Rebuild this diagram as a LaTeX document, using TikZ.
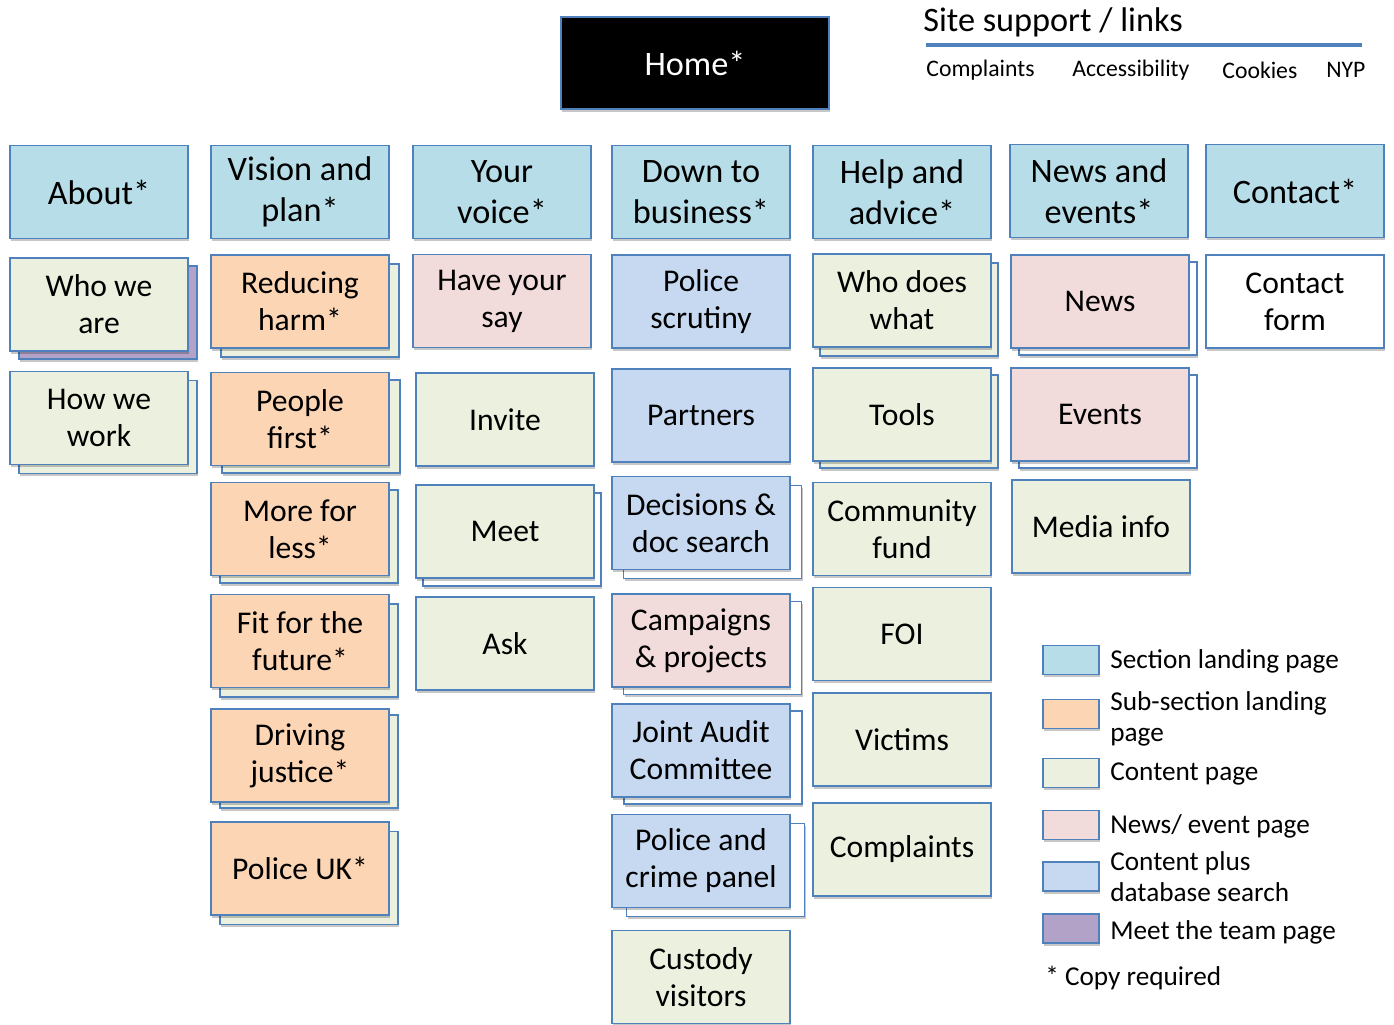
\documentclass[tikz,border=0pt]{standalone}
\usepackage{fontspec}
\setmainfont{Carlito}
\usepackage{tikz}
\usetikzlibrary{shadows}

\definecolor{pgblue}{HTML}{4F81BD}
\definecolor{seccol}{HTML}{B7DEE8}
\definecolor{subcol}{HTML}{FCD5B5}
\definecolor{contcol}{HTML}{EBF1DE}
\definecolor{newscol}{HTML}{F2DCDB}
\definecolor{pluscol}{HTML}{C6D9F1}
\definecolor{teamcol}{HTML}{B3A2C7}

\tikzset{
  pagebox/.style={draw=pgblue, line width=0.9pt, minimum width=3.56cm, minimum height=1.86cm,
    inner sep=1pt, align=center, font=\fontsize{18}{21}\selectfont,
    drop shadow={shadow xshift=0.6pt, shadow yshift=-1.6pt, fill=black, opacity=0.22}},
  secpage/.style={pagebox, fill=seccol, font=\fontsize{19.5}{23.2}\selectfont},
  subpage/.style={pagebox, fill=subcol},
  contpage/.style={pagebox, fill=contcol},
  newspage/.style={pagebox, fill=newscol},
  pluspage/.style={pagebox, fill=pluscol},
  whitepage/.style={pagebox, fill=white},
  backpage/.style={pagebox, fill=#1},
  swatch/.style={draw=pgblue, line width=0.9pt, minimum width=1.12cm, minimum height=0.58cm,
    fill=#1, drop shadow={shadow xshift=0.6pt, shadow yshift=-1.6pt, fill=black, opacity=0.22}},
  keytext/.style={anchor=west, align=left, inner sep=0pt, font=\fontsize{15.5}{17.6}\selectfont},
  linktext/.style={anchor=west, inner sep=0pt, font=\fontsize{13.5}{16}\selectfont}
}

\begin{document}
\begin{tikzpicture}[x=0.02cm, y=-0.02cm]
\useasboundingbox (0,0) rectangle (1394,1025);

% home and site links
\node[pagebox, fill=black, text=white, minimum width=5.36cm, minimum height=1.84cm,
  font=\fontsize{19.5}{23}\selectfont] (home) at (695,63) {Home*};
\node[anchor=west, inner sep=0pt, font=\fontsize{19.5}{22}\selectfont] (sitesup) at (923,22) {Site support / links};
\coordinate (rulel) at (926,45);
\coordinate (ruler) at (1362,45);
\draw[pgblue, line width=1.8pt] (rulel) -- (ruler);
\node[linktext] (lcompl) at (926,70) {Complaints};
\node[linktext] (laccess) at (1072,70) {Accessibility};
\node[linktext] (lcook) at (1222,70) {Cookies};
\node[linktext] (lnyp) at (1326,70) {NYP};

% section landing pages
\node[secpage] (about) at (99,192) {About*};
\node[secpage] (vision) at (300,192) {Vision and\\plan*};
\node[secpage] (voice) at (502,192) {Your\\voice*};
\node[secpage] (business) at (701,192) {Down to\\business*};
\node[secpage] (help) at (902,192) {Help and\\advice*};
\node[secpage] (newsev) at (1099,191) {News and\\events*};
\node[secpage] (contact) at (1295,191) {Contact*};

% about
\node[backpage=teamcol] (whoareB) at (108,312.5) {};
\node[contpage] (whoare) at (99,304.5) {Who we\\are};
\node[backpage=contcol] (howworkB) at (108,427) {};
\node[contpage] (howwork) at (99,418) {How we\\work};

% vision and plan
\node[backpage=contcol] (reduceB) at (310,310.5) {};
\node[subpage] (reduce) at (300,301.5) {Reducing\\harm*};
\node[backpage=contcol] (peopleB) at (311,426.5) {};
\node[subpage] (people) at (300,419) {People\\first*};
\node[backpage=contcol] (moreB) at (309,536.5) {};
\node[subpage] (more) at (300,529) {More for\\less*};
\node[backpage=contcol] (fitB) at (309,650.5) {};
\node[subpage] (fit) at (300,641) {Fit for the\\future*};
\node[backpage=contcol] (drivingB) at (309,761.5) {};
\node[subpage] (driving) at (300,755.5) {Driving\\justice*};
\node[backpage=contcol] (policeukB) at (309,878) {};
\node[subpage] (policeuk) at (300,868.5) {Police UK*};

% your voice
\node[newspage] (say) at (502,301) {Have your\\say};
\node[contpage] (invite) at (505,419.5) {Invite};
\node[backpage=white] (meetB) at (512,539.5) {};
\node[contpage] (meet) at (505,531.5) {Meet};
\node[contpage] (ask) at (505,643.5) {Ask};

% down to business
\node[pluspage] (scrutiny) at (701,301.5) {Police\\scrutiny};
\node[pluspage] (partners) at (701,415.5) {Partners};
\node[backpage=white] (decisionsB) at (712.5,532) {};
\node[pluspage] (decisions) at (701,523) {Decisions \&\\doc search};
\node[backpage=white] (campaignsB) at (712.5,648) {};
\node[newspage] (campaigns) at (701,640.5) {Campaigns\\\& projects};
\node[backpage=white] (auditB) at (713,757.5) {};
\node[pluspage] (audit) at (701,750.5) {Joint Audit\\Committee};
\node[backpage=white] (panelB) at (715.5,870) {};
\node[pluspage] (panel) at (701,861) {Police and\\crime panel};
\node[contpage] (custody) at (701,977) {Custody\\visitors};

% help and advice
\node[backpage=contcol] (whodoesB) at (909,309.5) {};
\node[contpage] (whodoes) at (902,300.5) {Who does\\what};
\node[backpage=contcol] (toolsB) at (909,421.5) {};
\node[contpage] (tools) at (902,414.5) {Tools};
\node[contpage] (fund) at (902,529) {Community\\fund};
\node[contpage] (foi) at (902,634) {FOI};
\node[contpage] (victims) at (902,739.5) {Victims};
\node[contpage] (complaints) at (902,849.5) {Complaints};

% news and events
\node[backpage=white] (newsB) at (1108,308.5) {};
\node[newspage] (news) at (1100,301.5) {News};
\node[backpage=white] (eventsB) at (1108,421.5) {};
\node[newspage] (events) at (1100,414.5) {Events};
\node[contpage] (media) at (1101,526.5) {Media info};

% contact
\node[whitepage] (form) at (1295,301.5) {Contact\\form};

% key
\node[swatch=seccol] (keysec) at (1071,660) {};
\node[keytext] (keysecT) at (1110,661) {Section landing page};
\node[swatch=subcol] (keysub) at (1071,714) {};
\node[keytext] (keysubT) at (1110,718.5) {Sub-section landing\\page};
\node[swatch=contcol] (keycont) at (1071,773) {};
\node[keytext] (keycontT) at (1110,774) {Content page};
\node[swatch=newscol] (keynews) at (1071,825) {};
\node[keytext] (keynewsT) at (1110,826) {News/ event page};
\node[swatch=pluscol] (keyplus) at (1071,876.5) {};
\node[keytext] (keyplusT) at (1110,876.5) {Content plus\\database search};
\node[swatch=teamcol] (keyteam) at (1071,928.5) {};
\node[keytext] (keyteamT) at (1110,932) {Meet the team page};
\node[keytext] (keycopy) at (1045,978) {* Copy required};
\end{tikzpicture}
\end{document}
